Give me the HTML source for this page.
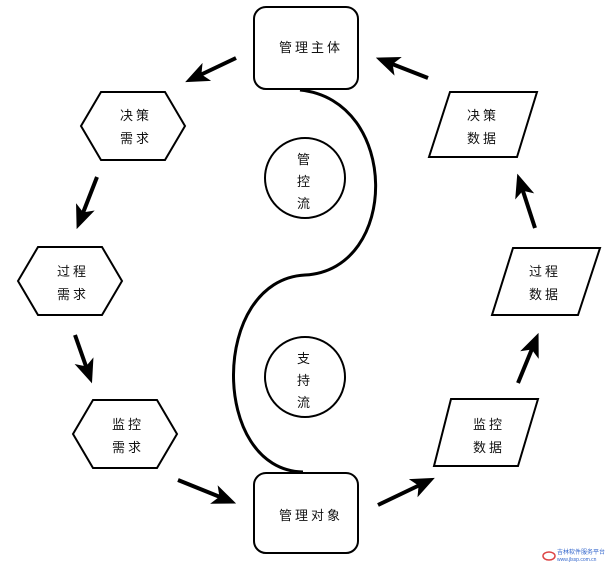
<!DOCTYPE html>
<html><head><meta charset="utf-8"><style>body{margin:0;background:#fff}svg{display:block}text{font-family:"Liberation Sans","Noto Sans CJK SC",sans-serif;font-size:13px;fill:#111;letter-spacing:3px}</style></head><body>
<svg width="611" height="563" viewBox="0 0 611 563">
<defs><marker id="a" markerWidth="6" markerHeight="6" refX="3" refY="3" orient="auto" markerUnits="strokeWidth"><path d="M0,0.5 L6,3 L0,5.5 L1.5,3 z" fill="#000"/></marker></defs>
<g fill="none" stroke="#000" stroke-width="2">
<rect x="254" y="7" width="104" height="82" rx="12"/>
<rect x="254" y="473" width="104" height="80" rx="12"/>
<polygon points="81,126 101,92 165,92 185,126 165,160 101,160"/>
<polygon points="18,281 38,247 102,247 122,281 102,315 38,315"/>
<polygon points="73,434 93,400 157,400 177,434 157,468 93,468"/>
<polygon points="450,92 537,92 517,157 429,157"/>
<polygon points="513,248 600,248 578,315 492,315"/>
<polygon points="451,399 538,399 518,466 434,466"/>
<circle cx="305" cy="178" r="40"/>
<circle cx="305" cy="377" r="40"/>
<path d="M300,90 C400,100 400,270 305,275 C210,280 210,470 303,472" stroke-width="3"/>
</g>
<g stroke="#000" stroke-width="4" marker-end="url(#a)">
<line x1="236" y1="58" x2="196" y2="77"/>
<line x1="97" y1="177" x2="81" y2="218"/>
<line x1="75" y1="335" x2="88" y2="372"/>
<line x1="178" y1="480" x2="225" y2="499"/>
<line x1="378" y1="505" x2="424" y2="483"/>
<line x1="518" y1="383" x2="534" y2="344"/>
<line x1="535" y1="228" x2="521" y2="185"/>
<line x1="428" y1="78" x2="387" y2="62"/>
</g>
<text x="279" y="52">管理主体</text>
<text x="279" y="520">管理对象</text>
<text x="120" y="120">决策</text><text x="120" y="143">需求</text>
<text x="57" y="276">过程</text><text x="57" y="299">需求</text>
<text x="112" y="429">监控</text><text x="112" y="452">需求</text>
<text x="467" y="120">决策</text><text x="467" y="143">数据</text>
<text x="529" y="276">过程</text><text x="529" y="299">数据</text>
<text x="473" y="429">监控</text><text x="473" y="452">数据</text>
<text x="305" y="164" text-anchor="middle">管</text><text x="305" y="186" text-anchor="middle">控</text><text x="305" y="208" text-anchor="middle">流</text>
<text x="305" y="363" text-anchor="middle">支</text><text x="305" y="385" text-anchor="middle">持</text><text x="305" y="407" text-anchor="middle">流</text>
<ellipse cx="549" cy="556" rx="6" ry="4" fill="none" stroke="#d44" stroke-width="1.5"/>
<text x="557" y="554" style="font-size:6px;letter-spacing:0;fill:#36c">吉林软件服务平台</text>
<text x="557" y="561" style="font-size:5px;letter-spacing:0;fill:#36c">www.jlssp.com.cn</text>
</svg>
</body></html>
